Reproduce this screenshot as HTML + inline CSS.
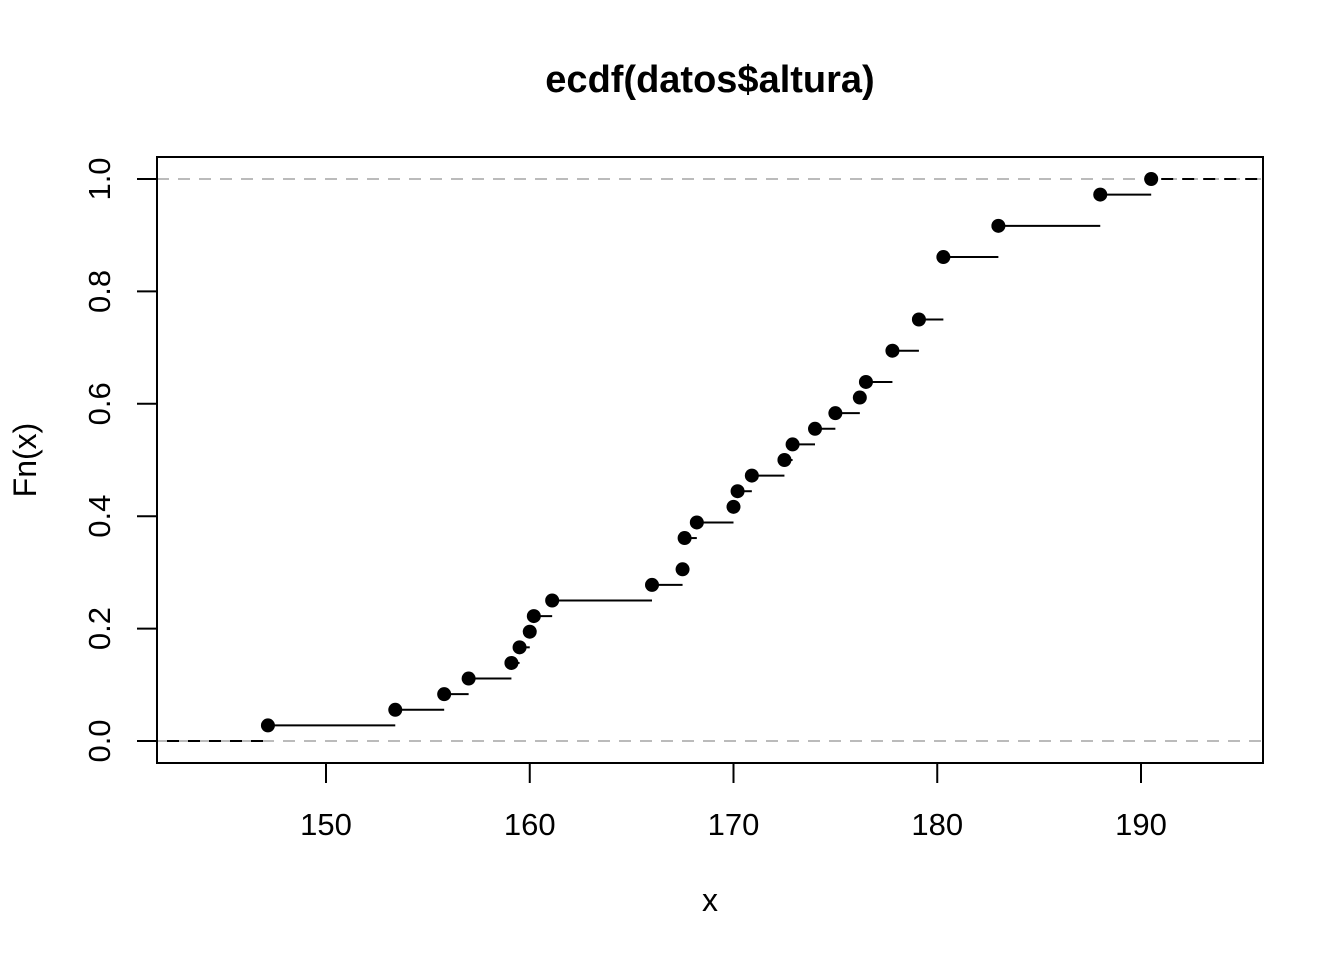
<!DOCTYPE html>
<html><head><meta charset="utf-8"><style>
html,body{margin:0;padding:0;background:#fff;}
svg{display:block;font-family:"Liberation Sans",Arial,sans-serif;}
</style></head><body>
<svg id="chart" width="1344" height="960" viewBox="0 0 1344 960">
<text x="710" y="92" text-anchor="middle" font-size="38" font-weight="bold">ecdf(datos$altura)</text>
<text x="710" y="911" text-anchor="middle" font-size="32">x</text>
<text transform="translate(36,460) rotate(-90)" text-anchor="middle" font-size="32">Fn(x)</text>
<g id="axes"></g>
<g id="marks"></g>
<rect x="157" y="157" width="1106" height="606" fill="none" stroke="#000" stroke-width="2"/>
</svg>
<script>
const xValues = [147.15,153.4,155.8,157.0,159.1,159.5,160.0,160.2,161.1,166.0,167.5,167.6,168.2,170.0,170.2,170.9,172.5,172.9,174.0,175.0,176.2,176.5,177.8,179.1,180.3,183.0,188.0,190.5];
const counts = [1,1,1,1,1,1,1,1,1,1,1,2,1,1,1,1,1,1,1,1,1,1,2,2,4,2,2,1];
const xTicks = [150,160,170,180,190];
const yTicks = ["0.0","0.2","0.4","0.6","0.8","1.0"];

const NS="http://www.w3.org/2000/svg";
const X=v=>326+(v-150)*20.375;
const Y=p=>741-p*562;
const L=157,R=1263,T=157,B=763;
function mk(tag,attrs,parent){const e=document.createElementNS(NS,tag);for(const k in attrs)e.setAttribute(k,attrs[k]);parent.appendChild(e);return e;}
const axes=document.getElementById('axes'), marks=document.getElementById('marks');

xTicks.forEach(t=>{
  const l=mk('line',{x1:X(t),x2:X(t),y1:B,y2:B+20,stroke:'#000','stroke-width':2},axes);
  
  
  const tx=mk('text',{x:X(t),y:835,'text-anchor':'middle','font-size':31},axes);
  tx.textContent=t;
  
  
});
yTicks.forEach(t=>{
  const v=parseFloat(t);
  const l=mk('line',{x1:L-20,x2:L,y1:Y(v),y2:Y(v),stroke:'#000','stroke-width':2},axes);
  
  
  const tx=mk('text',{transform:`translate(110,${Y(v)}) rotate(-90)`,'text-anchor':'middle','font-size':31},axes);
  tx.textContent=t;
  
  
});
[0,1].forEach(v=>{
  const g=mk('line',{x1:L,x2:R,y1:Y(v),y2:Y(v),stroke:'#bbb','stroke-width':2,'stroke-dasharray':'12,9'},marks);
  
  
});
const n=counts.reduce((a,b)=>a+b,0);
let cum=0;
const s0=mk('line',{x1:L,x2:X(xValues[0]),y1:Y(0),y2:Y(0),stroke:'#000','stroke-width':2,'stroke-dasharray':'12,9','stroke-dashoffset':'-10'},marks);


xValues.forEach((x,i)=>{
  cum+=counts[i];
  const p=cum/n;
  const x2=i<xValues.length-1?X(xValues[i+1]):R;
  const s=mk('line',{x1:X(x),x2:x2,y1:Y(p),y2:Y(p),stroke:'#000','stroke-width':2},marks);
  if(i===xValues.length-1){s.setAttribute('stroke-dasharray','12,9');s.setAttribute('stroke-dashoffset','-10');}
  
  
  const c=mk('circle',{cx:X(x),cy:Y(p),r:7,fill:'#000'},marks);
  
  
});
</script>
</body></html>
